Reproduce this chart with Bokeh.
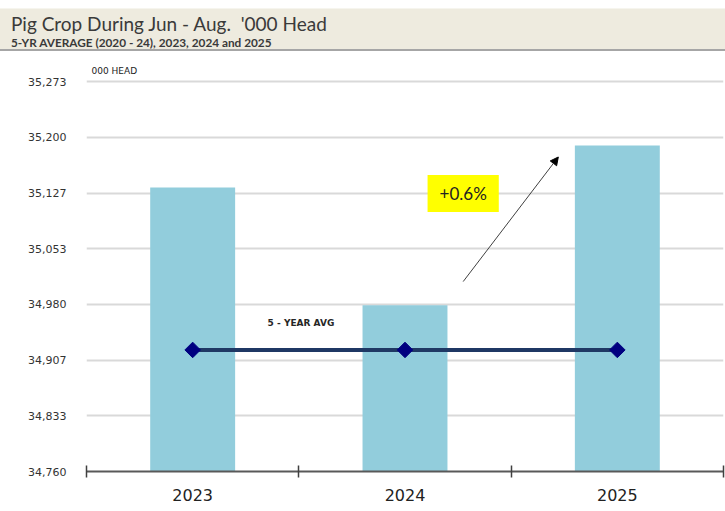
from bokeh.plotting import figure
from bokeh.models import (Range1d, FixedTicker, Label, Arrow, NormalHead, Div, Title)
from bokeh.layouts import column
from bokeh.embed import file_html
from bokeh.resources import INLINE

# ---- data ----
years = ["2023", "2024", "2025"]
crop = [35134, 34979, 35189]          # '000 head
avg5 = [34920, 34920, 34920]          # 5-yr average (2020-24)
y_tick_labels = ["34,760", "34,833", "34,907", "34,980", "35,053", "35,127", "35,200", "35,273"]
y_lo, y_hi = 34760, 35273
change_label = "+0.6%"

x_pos = [i + 0.5 for i in range(len(years))]
n = len(y_tick_labels)
y_ticks = [y_lo + i * (y_hi - y_lo) / (n - 1) for i in range(n)]

TICK_FONT = "DejaVu Sans"

title = Div(
    text=(
        "<div style=\"font-family:Lato;font-size:19px;color:#3a3a3a;line-height:20px;padding-top:5px;\">"
        "Pig Crop During Jun - Aug.&nbsp;&nbsp;'000 Head</div>"
        "<div style=\"font-family:Lato;font-size:11.8px;font-weight:bold;color:#3a3a3a;line-height:14px;padding-top:2px;\">"
        "5-YR AVERAGE (2020 - 24), 2023, 2024 and 2025</div>"
    ),
    width=725, height=43, margin=(8, 0, 0, 0),
    styles={"background-color": "#eeebdf", "border-bottom": "2px solid #a6a6a6",
            "border-top": "1px solid #f6f5ee",
            "padding-left": "11px", "box-sizing": "border-box"},
)

p = figure(width=725, height=460, output_backend="svg", toolbar_location=None,
           x_range=Range1d(0, 3), y_range=Range1d(y_lo, 35276),
           min_border_left=86, min_border_right=2, min_border_top=28, min_border_bottom=40)
p.outline_line_color = None
p.background_fill_color = "white"

# bars
p.vbar(x=x_pos, top=crop, bottom=y_lo, width=0.4, fill_color="#92cddc", line_color=None)

# 5-year avg
p.line(x=x_pos, y=avg5, line_color="#1f3864", line_width=4)
p.scatter(x=x_pos, y=avg5, marker="square", size=11, angle=0.785398,
          fill_color="#000080", line_color="#000080")

# y axis
p.yaxis.ticker = FixedTicker(ticks=y_ticks)
p.yaxis.major_label_overrides = {t: l for t, l in zip(y_ticks, y_tick_labels)}
p.yaxis.axis_line_color = None
p.yaxis.major_tick_line_color = None
p.yaxis.minor_tick_line_color = None
p.yaxis.major_label_standoff = 14
p.yaxis.major_label_text_font = TICK_FONT
p.yaxis.major_label_text_font_size = "11px"
p.yaxis.major_label_text_color = "#333333"

p.ygrid.ticker = FixedTicker(ticks=y_ticks)
p.ygrid.grid_line_color = "#d9d9d9"
p.ygrid.grid_line_width = 2
p.xgrid.grid_line_color = None

# x axis
p.xaxis.ticker = FixedTicker(ticks=x_pos, minor_ticks=[0, 1, 2, 3])
p.xaxis.major_label_overrides = {x: y for x, y in zip(x_pos, years)}
p.xaxis.axis_line_color = "#595959"
p.xaxis.axis_line_width = 2
p.xaxis.major_tick_line_color = None
p.xaxis.minor_tick_line_color = "#404040"
p.xaxis.minor_tick_line_width = 1.5
p.xaxis.minor_tick_in = 6
p.xaxis.minor_tick_out = 6
p.xaxis.major_label_standoff = 11
p.xaxis.major_label_text_font = TICK_FONT
p.xaxis.major_label_text_font_size = "16px"
p.xaxis.major_label_text_color = "#222222"

# annotations
p.add_layout(Title(text="000 HEAD", align="left", offset=5, standoff=8,
                   text_font=TICK_FONT, text_font_size="9px", text_font_style="normal",
                   text_color="#222222"), "above")
p.add_layout(Label(x=1.01, y=34955, text="5 - YEAR AVG", text_font=TICK_FONT,
                   text_font_style="bold", text_font_size="9px", text_color="#262626",
                   text_align="center", text_baseline="middle"))
p.add_layout(Arrow(end=NormalHead(size=8, fill_color="black", line_color="black"),
                   x_start=1.774, y_start=35010, x_end=2.222, y_end=35174,
                   line_color="#404040", line_width=1))
p.add_layout(Label(x=1.774, y=35126, text=change_label, text_font="Lato",
                   text_font_size="17px", text_color="#222222",
                   text_align="center", text_baseline="middle",
                   background_fill_color="#ffff00",
                   padding={"left": 12, "right": 12, "top": 8, "bottom": 8}))

layout = column(title, p, spacing=0)
open("out.html", "w").write(file_html(layout, INLINE))
